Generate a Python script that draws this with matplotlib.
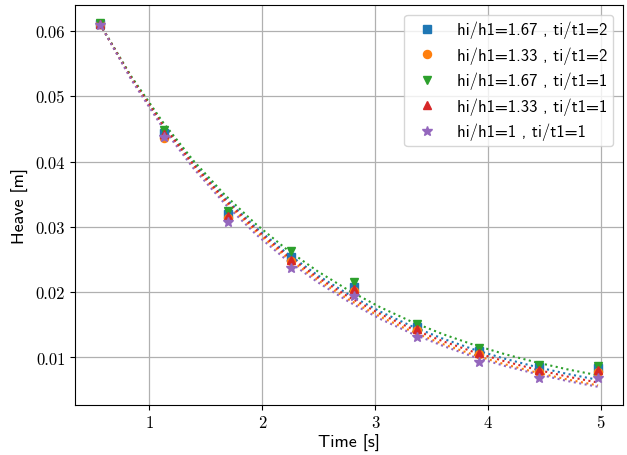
import matplotlib
matplotlib.use("Agg")
import matplotlib.pyplot as plt

# ---- data ----
time_pts = [0.563, 1.134, 1.696, 2.255, 2.817, 3.376, 3.924, 4.456, 4.976]

heave_h167_t2 = [0.0611, 0.0444, 0.0320, 0.0254, 0.0208, 0.0146, 0.0110, 0.0086, 0.0084]
heave_h133_t2 = [0.0610, 0.0436, 0.0314, 0.0248, 0.0202, 0.0142, 0.0106, 0.0078, 0.0077]
heave_h167_t1 = [0.0612, 0.0448, 0.0325, 0.0263, 0.0216, 0.0151, 0.0115, 0.0089, 0.0087]
heave_h133_t1 = [0.0611, 0.0443, 0.0316, 0.0250, 0.0205, 0.0144, 0.0107, 0.0081, 0.0080]
heave_h1_t1 = [0.0609, 0.0438, 0.0308, 0.0237, 0.0194, 0.0131, 0.0093, 0.0069, 0.0068]

# fitted (dotted) curves
fit_time = [0.563, 0.839, 1.115, 1.390, 1.666, 1.942, 2.218, 2.494, 2.770,
            3.045, 3.321, 3.597, 3.873, 4.148, 4.424, 4.700, 4.976]
fit_h167_t2 = [0.0611, 0.05294, 0.04589, 0.03979, 0.0345, 0.02993, 0.02597, 0.02256, 0.0196,
               0.01703, 0.01482, 0.0129, 0.01124, 0.00981, 0.00857, 0.00749, 0.00657]
fit_h133_t2 = [0.0611, 0.05276, 0.04556, 0.03934, 0.03396, 0.02932, 0.0253, 0.02183, 0.01883,
               0.01625, 0.01402, 0.01208, 0.0104, 0.00896, 0.00772, 0.00664, 0.00571]
fit_h167_t1 = [0.0611, 0.0531, 0.04617, 0.04017, 0.03496, 0.03046, 0.02655, 0.02317, 0.02024,
               0.0177, 0.0155, 0.01359, 0.01194, 0.01051, 0.00927, 0.00819, 0.00726]
fit_h133_t1 = [0.0611, 0.05287, 0.04573, 0.03958, 0.03425, 0.02965, 0.02566, 0.02222, 0.01924,
               0.01667, 0.01443, 0.01251, 0.01084, 0.00941, 0.00816, 0.00708, 0.00615]
fit_h1_t1 = [0.0611, 0.0526, 0.0453, 0.0390, 0.0336, 0.0289, 0.0249, 0.0215, 0.0185,
             0.0159, 0.0137, 0.0118, 0.0101, 0.0087, 0.0075, 0.0064, 0.0055]

labels = ["hi/h1=1.67 , ti/t1=2", "hi/h1=1.33 , ti/t1=2", "hi/h1=1.67 , ti/t1=1",
          "hi/h1=1.33 , ti/t1=1", "hi/h1=1 , ti/t1=1"]
x_ticks = [1, 2, 3, 4, 5]
y_ticks = [0.01, 0.02, 0.03, 0.04, 0.05, 0.06]
x_label = "Time [s]"
y_label = "Heave [m]"

markers_data = [heave_h167_t2, heave_h133_t2, heave_h167_t1, heave_h133_t1, heave_h1_t1]
fits_data = [fit_h167_t2, fit_h133_t2, fit_h167_t1, fit_h133_t1, fit_h1_t1]
colors = ["#1f77b4", "#ff7f0e", "#2ca02c", "#d62728", "#9467bd"]
marker_styles = ["s", "o", "v", "^", "*"]

fig = plt.figure(figsize=(6.27, 4.56), dpi=100)
ax = fig.add_axes([75 / 627, 1 - 406 / 456, (623 - 75) / 627, (406 - 6) / 456])

for fit, c in zip(fits_data, colors):
    ax.plot(fit_time, fit, linestyle=":", color=c, linewidth=1.5, zorder=2)

for vals, c, m, lab in zip(markers_data, colors, marker_styles, labels):
    ms = 7 if m == "*" else 5.8
    ax.plot(time_pts, vals, linestyle="none", marker=m, color=c, markersize=ms,
            label=lab, zorder=3)

ax.set_xticks(x_ticks)
ax.set_yticks(y_ticks)
ax.set_xticklabels([str(t) for t in x_ticks], family="cmr10", fontsize=12)
ax.set_yticklabels(["%.2f" % t for t in y_ticks], family="cmr10", fontsize=12)
ax.grid(True, color="#b0b0b0", linewidth=0.9)
ax.set_axisbelow(True)
ax.set_xlabel(x_label, family="cmss10", fontsize=13, labelpad=3)
ax.set_ylabel(y_label, family="cmss10", fontsize=13, labelpad=5)

leg = ax.legend(loc="upper right", prop={"family": "cmss10", "size": 12},
                handletextpad=0.8, labelspacing=0.48, borderpad=0.35,
                borderaxespad=0.6)

fig.savefig("out.png", dpi=100)
